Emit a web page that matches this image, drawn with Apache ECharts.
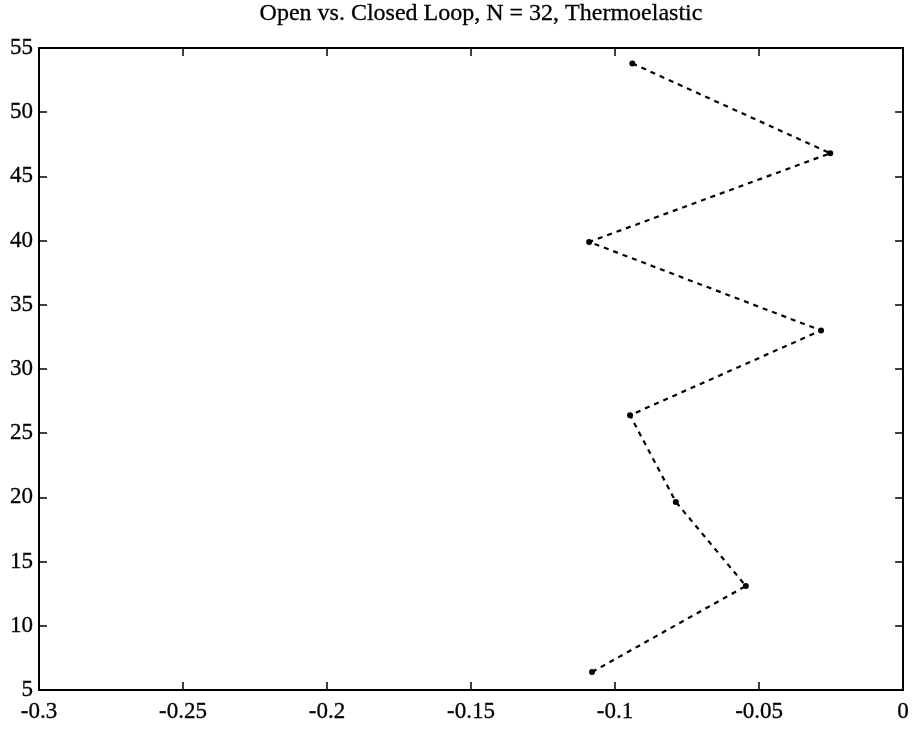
<!DOCTYPE html>
<html><head><meta charset="utf-8">
<script src="https://cdn.jsdelivr.net/npm/echarts@6/dist/echarts.min.js"></script>
<style>html,body{margin:0;padding:0;background:#fff}#c{width:912px;height:735px}</style>
</head><body><div id="c"></div>
<script>
const titleText = 'Open vs. Closed Loop, N = 32, Thermoelastic';
const xValues = [-0.094, -0.0253, -0.109, -0.0285, -0.0948, -0.0789, -0.0546, -0.108];
const yValues = [53.8, 46.8, 39.9, 33.0, 26.4, 19.65, 13.1, 6.4];
const xTicks = [-0.3, -0.25, -0.2, -0.15, -0.1, -0.05, 0];
const yTicks = [5, 10, 15, 20, 25, 30, 35, 40, 45, 50, 55];

const font = 'Liberation Serif';
const txt = {fontFamily: font, fontSize: 23, color: '#000', textBorderColor: '#000', textBorderWidth: 0.3};
const axisBase = {
  type: 'value',
  axisLine: {show: true, onZero: false, lineStyle: {color: '#000', width: 2}},
  axisTick: {show: true, inside: true, length: 8, lineStyle: {color: '#000', width: 1.5}},
  splitLine: {show: false}
};
const fmtX = v => { const r = Math.round(v*100)/100; return r === 0 ? '0' : String(r); };
const chart = echarts.init(document.getElementById('c'));
chart.setOption({
  animation: false,
  backgroundColor: '#fff',
  title: {text: titleText, left: 476, textAlign: 'center', top: -3,
    textStyle: Object.assign({}, txt, {fontWeight: 'normal', fontSize: 24})},
  grid: {left: 39, right: 5, top: 48, bottom: 45},
  xAxis: [
    Object.assign({}, axisBase, {position: 'bottom', min: xTicks[0], max: xTicks[xTicks.length-1], interval: 0.05,
      axisLabel: Object.assign({show: true, margin: 10, showMinLabel: true, showMaxLabel: true, formatter: fmtX}, txt)}),
    Object.assign({}, axisBase, {position: 'top', min: xTicks[0], max: xTicks[xTicks.length-1], interval: 0.05,
      axisLabel: {show: false}})
  ],
  yAxis: [
    Object.assign({}, axisBase, {position: 'left', min: yTicks[0], max: yTicks[yTicks.length-1], interval: 5,
      axisLabel: Object.assign({show: true, margin: 6, showMinLabel: true, showMaxLabel: true}, txt)}),
    Object.assign({}, axisBase, {position: 'right', min: yTicks[0], max: yTicks[yTicks.length-1], interval: 5,
      axisLabel: {show: false}})
  ],
  series: [{
    type: 'line',
    xAxisIndex: 0, yAxisIndex: 0,
    data: xValues.map((x, i) => [x, yValues[i]]),
    symbol: 'circle', symbolSize: 6,
    itemStyle: {color: '#000'},
    lineStyle: {color: '#000', width: 2.2, type: [5, 5]}
  }]
});
</script></body></html>
